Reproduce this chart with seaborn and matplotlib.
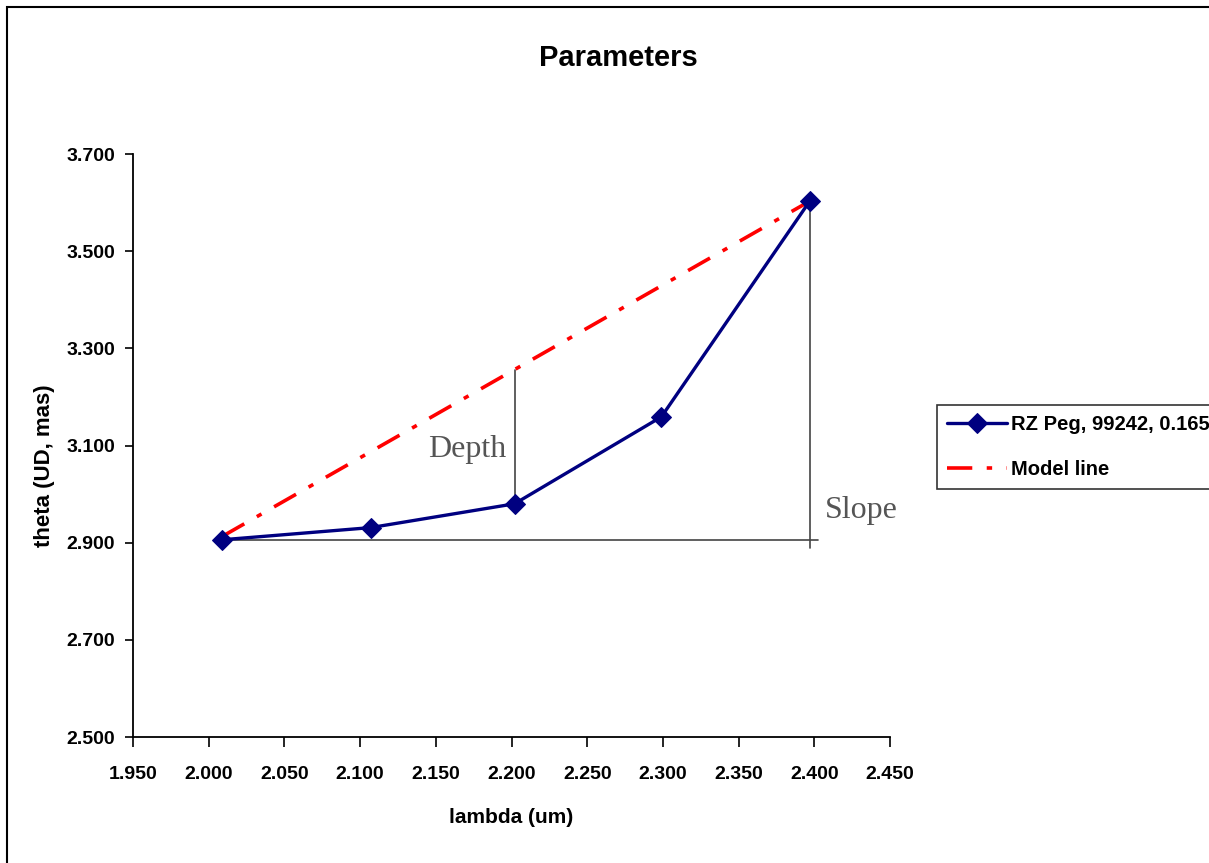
import matplotlib
matplotlib.use("Agg")
import matplotlib.pyplot as plt
import seaborn as sns
import pandas as pd
from matplotlib.patches import Rectangle

# Data
lam = [2.009, 2.107, 2.202, 2.299, 2.397]
theta = [2.906, 2.931, 2.980, 3.159, 3.603]
model_x = [2.009, 2.397]
model_y = [2.913, 3.603]
series_name = "RZ Peg, 99242, 0.165"
model_name = "Model line"
xticks = [1.95, 2.00, 2.05, 2.10, 2.15, 2.20, 2.25, 2.30, 2.35, 2.40, 2.45]
yticks = [2.5, 2.7, 2.9, 3.1, 3.3, 3.5, 3.7]

sns.set_style("ticks")
plt.rcParams['font.family'] = ['Liberation Sans', 'DejaVu Sans']
plt.rcParams['text.color'] = 'black'
plt.rcParams['axes.labelcolor'] = 'black'
plt.rcParams['xtick.color'] = 'black'
plt.rcParams['ytick.color'] = 'black'

fig = plt.figure(figsize=(12.09, 8.63), dpi=100)
ax = fig.add_axes([133/1209, 1-737/863, (890-133)/1209, (737-154)/863])

df = pd.DataFrame({"lambda": lam, "theta": theta})
dm = pd.DataFrame({"lambda": model_x, "theta": model_y})

sns.lineplot(data=dm, x="lambda", y="theta", ax=ax, color="#ff0000",
             linewidth=2.6, label=model_name, zorder=3)
ax.lines[-1].set_dashes([7, 4, 1.5, 4])
sns.lineplot(data=df, x="lambda", y="theta", ax=ax, color="#000080",
             linewidth=2.4, marker="D", markersize=10, markeredgecolor="#000080",
             label=series_name, zorder=4)

# annotation lines
gray = "#444444"
ax.plot([lam[0], 2.4024], [theta[0], theta[0]], color=gray, lw=1.2, zorder=2)
m3 = model_y[0] + (lam[2]-model_x[0])/(model_x[1]-model_x[0])*(model_y[1]-model_y[0])
ax.plot([lam[2], lam[2]], [m3, theta[2]], color=gray, lw=1.2, zorder=2)
ax.plot([lam[4], lam[4]], [theta[4], 2.889], color=gray, lw=1.2, zorder=2)

ax.text(2.1448, 3.0764, "Depth", family="Liberation Serif", fontsize=23,
        color="#555555", ha="left", va="baseline")
ax.text(2.4071, 2.9508, "Slope", family="Liberation Serif", fontsize=23,
        color="#555555", ha="left", va="baseline", clip_on=False)

ax.set_xlim(1.95, 2.45)
ax.set_ylim(2.5, 3.7)
ax.set_xticks(xticks)
ax.set_yticks(yticks)
ax.set_xticklabels([f"{v:.3f}" for v in xticks], fontsize=14, fontweight="bold")
ax.set_yticklabels([f"{v:.3f}" for v in yticks], fontsize=14, fontweight="bold")
ax.tick_params(axis="x", direction="out", length=7, width=1.2, pad=14)
ax.tick_params(axis="y", direction="out", length=6, width=1.2, pad=7)
for s in ["top", "right"]:
    ax.spines[s].set_visible(False)
for s in ["left", "bottom"]:
    ax.spines[s].set_color("black")
    ax.spines[s].set_linewidth(1.3)

ax.set_xlabel("lambda (um)", fontsize=15, fontweight="bold", labelpad=18)
ax.set_ylabel("theta (UD, mas)", fontsize=16, fontweight="bold", labelpad=8)
ax.yaxis.label.set_y(0.465)

fig.text(618/1209, 1-58/863, "Parameters", ha="center", va="center",
         fontsize=21, fontweight="bold")

# legend
handles, labels = ax.get_legend_handles_labels()
ax.get_legend().remove()
order = [labels.index(series_name), labels.index(model_name)]
leg = fig.legend([handles[i] for i in order], [labels[i] for i in order],
                 loc="upper left", bbox_to_anchor=(937/1209, 1-405/863),
                 frameon=True, fancybox=False, edgecolor="black",
                 prop={"weight": "bold", "size": 14.5}, handlelength=3.0,
                 borderpad=0.5, labelspacing=1.3, handletextpad=0.15,
                 borderaxespad=0)
leg.get_frame().set_linewidth(1.2)

# figure border
fig.patches.append(Rectangle((7/1209, -0.05), 1.2, 1-7/863+0.05,
                             transform=fig.transFigure, fill=False,
                             edgecolor="black", linewidth=1.5))

fig.savefig("out.png", dpi=100)
